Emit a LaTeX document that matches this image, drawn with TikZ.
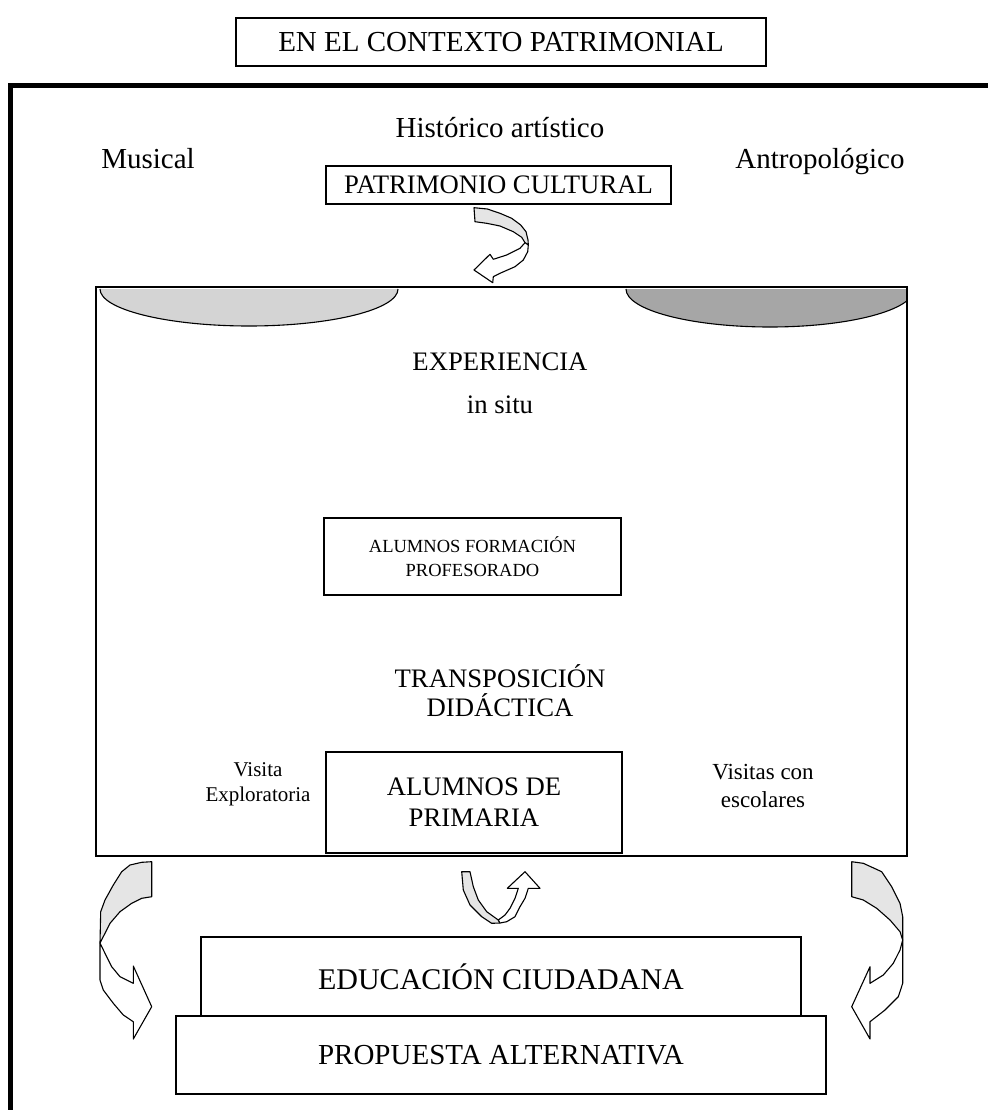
\documentclass[tikz,border=0pt]{standalone}
\usepackage{fontspec}
\setmainfont{Liberation Serif}
\begin{document}
\begin{tikzpicture}[x=1pt,y=-1pt,
  box/.style={draw, line width=1.2pt, inner sep=0pt, align=center},
  txt/.style={inner sep=0pt, align=center},
  fbig/.style={font=\fontsize{29}{32}\selectfont},
  fmid/.style={font=\fontsize{26.7}{29}\selectfont},
  fsmall/.style={font=\fontsize{18.5}{24}\selectfont},
  arrowgray/.style={draw, line width=1.1pt, line join=round, fill=black!10},
  arrowwhite/.style={draw, line width=1.1pt, line join=round, fill=white}]
\useasboundingbox (0,0) rectangle (988,1110);
% outer frame
\draw[line width=5pt] (10,1110) -- (10,86) -- (988,86);
% title
\node[box, fbig, minimum width=530, minimum height=48] (ctx) at (501,42) {EN EL CONTEXTO PATRIMONIAL};
\node[txt, fbig, anchor=base] (hist) at (500,138) {Histórico artístico};
\node[txt, fbig, anchor=base] (mus) at (148,168) {Musical};
\node[txt, fbig, anchor=base] (antro) at (820,168) {Antropológico};
\node[box, fmid, minimum width=345, minimum height=38] (patr) at (498.5,185) {PATRIMONIO CULTURAL};
% curved arrow 1
\path[arrowgray] (474,207.7) -- (487.3,209) -- (500,213.3) -- (511.7,218.3) -- (520.7,225) -- (526,231.7) -- (528,240) -- (528.3,245) -- (525,242.7) -- (521.7,237.3) -- (513.3,231.7) -- (500,226) -- (486.7,223.3) -- (475,221.7) -- cycle;
\path[arrowwhite] (528.3,245) -- (527.7,251.7) -- (523.3,260) -- (515,266.7) -- (500,273.3) -- (493.3,276.7) -- (492.7,282.7) -- (474,270) -- (490,254.3) -- (493.3,259.3) -- (506.7,255) -- (520,248.3) -- (525,242.7) -- cycle;
% half ellipses
\filldraw[fill=black!17, line width=1.1pt] (100,289) arc[start angle=180, end angle=0, x radius=149, y radius=37];
\begin{scope}
\clip (600,287) rectangle (907,400);
\filldraw[fill=black!35, line width=1.1pt] (626,289) arc[start angle=180, end angle=0, x radius=144, y radius=38];
\end{scope}
% big box
\node[box, minimum width=811, minimum height=569] (big) at (501.5,571.5) {};
\node[txt, fmid] (exp) at (500,362) {EXPERIENCIA};
\node[txt, fmid] (insitu) at (500,405) {in situ};
\node[box, fsmall, minimum width=297, minimum height=77] (afp) at (472.5,556.5) {ALUMNOS FORMACIÓN\\PROFESORADO};
\node[txt, fmid] (trans) at (500,691) {TRANSPOSICIÓN\\DIDÁCTICA};
\node[box, minimum width=296, minimum height=101, font=\fontsize{26.7}{31}\selectfont] (aprim) at (474,802.5) {ALUMNOS DE\\PRIMARIA};
\node[txt, font=\fontsize{21}{25}\selectfont] (visita) at (258,784) {Visita\\Exploratoria};
\node[txt, font=\fontsize{23}{28}\selectfont] (visitas) at (763,786) {Visitas con\\escolares};
% U arrow
\path[arrowgray] (461.7,871.7) -- (470,871.7) -- (473.3,886.7) -- (478.3,900) -- (486.7,911.7) -- (498.3,920) -- (500,923) -- (491.7,923.3) -- (481.7,916.7) -- (470,905) -- (463.3,890) -- cycle;
\path[arrowwhite] (500,923) -- (506.7,921.7) -- (515,916.7) -- (520,906.7) -- (525,898.3) -- (528.3,888.3) -- (540,888.3) -- (525,871.7) -- (507.3,888.3) -- (518.3,888.3) -- (515,898.3) -- (510,908.3) -- (505,915) -- (498.3,920) -- cycle;
% left arrow
\path[arrowgray] (151.7,861.7) -- (141.7,862.3) -- (130,865) -- (121.7,871.7) -- (113.3,885) -- (105,900) -- (100.7,911.7) -- (100,943) -- (105,933.3) -- (110,923.3) -- (120,911.7) -- (131.7,903.3) -- (141.7,898.3) -- (151.7,896.7) -- cycle;
\path[arrowwhite] (100,943) -- (100,980) -- (103.3,990) -- (113.3,1003.3) -- (123.3,1015) -- (133.3,1021.7) -- (133.3,1039) -- (151.7,1006.7) -- (133.3,966) -- (133.3,983.3) -- (120,976.7) -- (111.7,966.7) -- (105,953.3) -- cycle;
% right arrow
\path[arrowgray] (851.7,861.7) -- (863.3,863.3) -- (881.7,871.7) -- (891.7,886.7) -- (900,903.3) -- (902.7,916.7) -- (902.7,940) -- (900,931.7) -- (890,920) -- (876.7,908.3) -- (863.3,900) -- (851.7,896.7) -- cycle;
\path[arrowwhite] (902.7,940) -- (902.7,983.3) -- (898.3,996.7) -- (885,1010) -- (870,1021.7) -- (870,1039) -- (851.7,1006.7) -- (870,966.7) -- (870,983.3) -- (883.3,975) -- (893.3,963.3) -- (900,950) -- cycle;
% bottom boxes
\node[box, font=\fontsize{30}{32}\selectfont, minimum width=600, minimum height=79] (edu) at (501,976.5) {EDUCACIÓN CIUDADANA};
\node[box, fbig, minimum width=650, minimum height=78] (prop) at (501,1055) {PROPUESTA ALTERNATIVA};
\end{tikzpicture}
\end{document}
